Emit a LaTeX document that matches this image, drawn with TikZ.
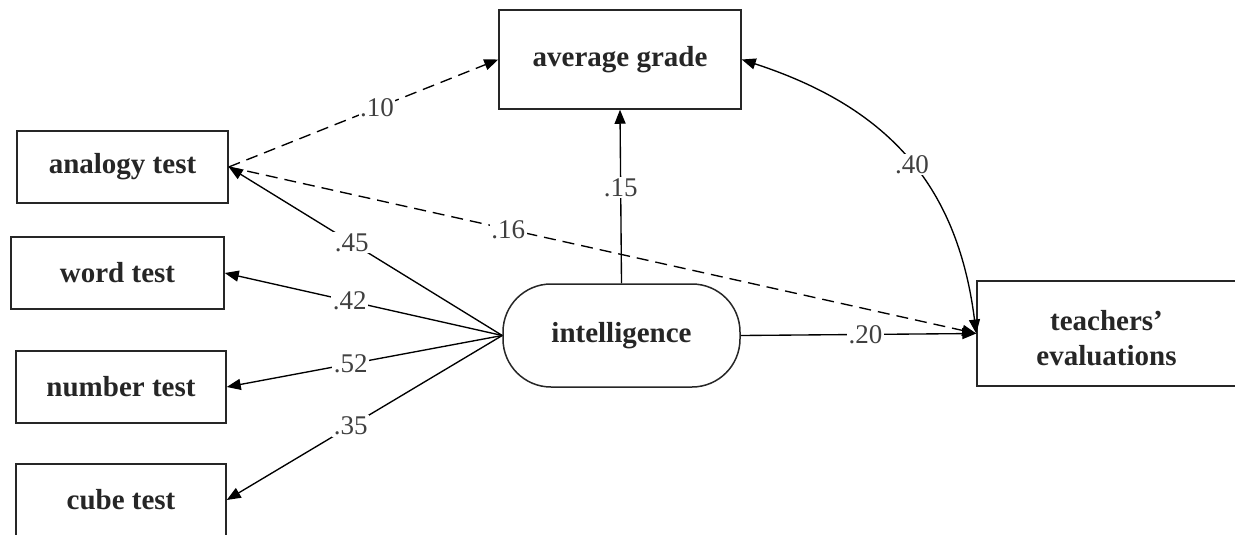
\documentclass[tikz,border=0pt]{standalone}
\usepackage{fontspec}
\setmainfont{Liberation Serif}
\usetikzlibrary{arrows.meta}
\begin{document}
\begin{tikzpicture}[x=1pt,y=-1pt,
 boxfont/.style={font=\bfseries\fontsize{29}{35}\selectfont,text=black!85},
 box/.style={boxfont,draw=black!85,line width=1.5pt,fill=white,minimum height=72pt,inner sep=0pt},
 conn/.style={line width=1.35pt,-{Triangle[length=14pt,width=11pt]}},
 dsh/.style={conn,dash pattern=on 12pt off 7pt},
 both/.style={line width=1.35pt,{Triangle[length=14pt,width=11pt]}-{Triangle[length=14pt,width=11pt]}},
 lab/.style={fill=white,inner sep=1.5pt,font=\fontsize{27}{30}\selectfont,text=black!75}
]
\useasboundingbox (0,0) rectangle (1235,535);
\begin{scope}
\clip (0,0) rectangle (1235,535);
\node[box,minimum width=211pt] (an) at (122.5,167) {analogy test};
\node[box,minimum width=213pt] (wo) at (117.5,273) {word test};
\node[box,minimum width=210pt] (nu) at (121,387) {number test};
\node[box,minimum width=210pt] (cu) at (121,500) {cube test};
\node[box,minimum width=242pt,minimum height=99pt] (ag) at (620,59.5) {average grade};
\node[box,minimum width=237pt,minimum height=103pt,rounded corners=48pt] (in) at (621.5,335.5) {intelligence};
\node[box,minimum width=259pt,minimum height=105pt] (te) at (1106.5,333.5) {};
\node[boxfont,align=center,inner sep=0pt] (tt) at ([yshift=-5pt]te.center) {teachers’\\evaluations};

\draw[conn] (in.west) -- node[lab,pos=.55]{.45} (an.east);
\draw[conn] (in.west) -- node[lab,pos=.55]{.42} (wo.east);
\draw[conn] (in.west) -- node[lab,pos=.55]{.52} (nu.east);
\draw[conn] (in.west) -- node[lab,pos=.55]{.35} (cu.east);
\draw[conn] (in.north) -- node[lab,pos=.55]{.15} (ag.south);
\draw[conn] (in.east) -- node[lab,pos=.53]{.20} (te.west);
\draw[dsh] (an.east) -- node[lab,pos=.55]{.10} (ag.west);
\draw[dsh] (an.east) -- node[lab,pos=.374]{.16} (te.west);
\draw[both] (ag.east) .. controls (884,106) and (957,181) .. node[lab,pos=.53]{.40} (te.west);
\end{scope}
\end{tikzpicture}
\end{document}
